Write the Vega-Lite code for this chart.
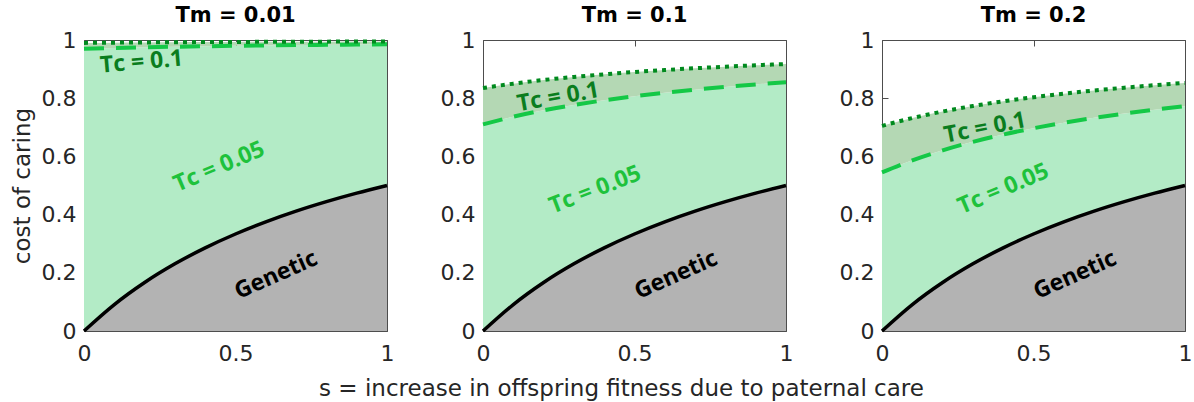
{
  "$schema": "https://vega.github.io/schema/vega-lite/v6.json",
  "padding": {"left": 10, "top": 4, "right": 5, "bottom": 2},
  "background": "white",
  "datasets": {
    "curves": [
      {"Tm": "0.01", "s": 0, "g": 0, "d": 0.97, "t": 0.99},
      {"Tm": "0.01", "s": 0.1, "g": 0.0909, "d": 0.9727, "t": 0.9909},
      {"Tm": "0.01", "s": 0.2, "g": 0.1667, "d": 0.975, "t": 0.9917},
      {"Tm": "0.01", "s": 0.3, "g": 0.2308, "d": 0.9769, "t": 0.9923},
      {"Tm": "0.01", "s": 0.4, "g": 0.2857, "d": 0.9786, "t": 0.9929},
      {"Tm": "0.01", "s": 0.5, "g": 0.3333, "d": 0.98, "t": 0.9933},
      {"Tm": "0.01", "s": 0.6, "g": 0.375, "d": 0.9813, "t": 0.9938},
      {"Tm": "0.01", "s": 0.7, "g": 0.4118, "d": 0.9824, "t": 0.9941},
      {"Tm": "0.01", "s": 0.8, "g": 0.4444, "d": 0.9833, "t": 0.9944},
      {"Tm": "0.01", "s": 0.9, "g": 0.4737, "d": 0.9842, "t": 0.9947},
      {"Tm": "0.01", "s": 1, "g": 0.5, "d": 0.985, "t": 0.995},
      {"Tm": "0.1", "s": 0, "g": 0, "d": 0.71, "t": 0.835},
      {"Tm": "0.1", "s": 0.1, "g": 0.0909, "d": 0.7364, "t": 0.85},
      {"Tm": "0.1", "s": 0.2, "g": 0.1667, "d": 0.7583, "t": 0.8625},
      {"Tm": "0.1", "s": 0.3, "g": 0.2308, "d": 0.7769, "t": 0.8731},
      {"Tm": "0.1", "s": 0.4, "g": 0.2857, "d": 0.7929, "t": 0.8821},
      {"Tm": "0.1", "s": 0.5, "g": 0.3333, "d": 0.8067, "t": 0.89},
      {"Tm": "0.1", "s": 0.6, "g": 0.375, "d": 0.8188, "t": 0.8969},
      {"Tm": "0.1", "s": 0.7, "g": 0.4118, "d": 0.8294, "t": 0.9029},
      {"Tm": "0.1", "s": 0.8, "g": 0.4444, "d": 0.8389, "t": 0.9083},
      {"Tm": "0.1", "s": 0.9, "g": 0.4737, "d": 0.8474, "t": 0.9132},
      {"Tm": "0.1", "s": 1, "g": 0.5, "d": 0.855, "t": 0.9175},
      {"Tm": "0.2", "s": 0, "g": 0, "d": 0.545, "t": 0.705},
      {"Tm": "0.2", "s": 0.1, "g": 0.0909, "d": 0.5864, "t": 0.7318},
      {"Tm": "0.2", "s": 0.2, "g": 0.1667, "d": 0.6208, "t": 0.7542},
      {"Tm": "0.2", "s": 0.3, "g": 0.2308, "d": 0.65, "t": 0.7731},
      {"Tm": "0.2", "s": 0.4, "g": 0.2857, "d": 0.675, "t": 0.7893},
      {"Tm": "0.2", "s": 0.5, "g": 0.3333, "d": 0.6967, "t": 0.8033},
      {"Tm": "0.2", "s": 0.6, "g": 0.375, "d": 0.7156, "t": 0.8156},
      {"Tm": "0.2", "s": 0.7, "g": 0.4118, "d": 0.7324, "t": 0.8265},
      {"Tm": "0.2", "s": 0.8, "g": 0.4444, "d": 0.7472, "t": 0.8361},
      {"Tm": "0.2", "s": 0.9, "g": 0.4737, "d": 0.7605, "t": 0.8447},
      {"Tm": "0.2", "s": 1, "g": 0.5, "d": 0.7725, "t": 0.8525}
    ],
    "labels": [
      {"Tm": "0.01", "label": "Tc = 0.1", "s": 0.19, "y": 0.924},
      {"Tm": "0.01", "label": "Tc = 0.05", "s": 0.446, "y": 0.564},
      {"Tm": "0.01", "label": "Genetic", "s": 0.634, "y": 0.192},
      {"Tm": "0.1", "label": "Tc = 0.1", "s": 0.248, "y": 0.804},
      {"Tm": "0.1", "label": "Tc = 0.05", "s": 0.37, "y": 0.485},
      {"Tm": "0.1", "label": "Genetic", "s": 0.637, "y": 0.192},
      {"Tm": "0.2", "label": "Tc = 0.1", "s": 0.34, "y": 0.698},
      {"Tm": "0.2", "label": "Tc = 0.05", "s": 0.4, "y": 0.488},
      {"Tm": "0.2", "label": "Genetic", "s": 0.637, "y": 0.192}
    ]
  },
  "spacing": 96,
  "bounds": "flush",
  "hconcat": [
    {
      "width": 303, "height": 291,
      "title": "Tm = 0.01",
      "layer": [
        {
          "data": {"name": "curves"},
          "transform": [{"filter": "datum.Tm == '0.01'"}],
          "layer": [
            {"mark": {"type": "area", "color": "#b3b3b3", "interpolate": "monotone"},
             "encoding": {
               "x": {"field": "s", "type": "quantitative", "scale": {"domain": [0, 1]}, "axis": {"orient": "bottom", "values": [0, 0.5, 1], "format": "~g", "title": null}},
               "y": {"field": "g", "type": "quantitative", "scale": {"domain": [0, 1]}, "axis": {"orient": "left", "values": [0, 0.2, 0.4, 0.6, 0.8, 1], "format": "~g", "title": "cost of caring"}}}},
            {"mark": {"type": "area", "color": "#b3ebc6", "interpolate": "monotone"},
             "encoding": {"x": {"field": "s", "type": "quantitative", "axis": null}, "y": {"field": "g", "type": "quantitative", "axis": null}, "y2": {"field": "d"}}},
            {"mark": {"type": "area", "color": "#b4d8b4", "interpolate": "monotone"},
             "encoding": {"x": {"field": "s", "type": "quantitative", "axis": null}, "y": {"field": "d", "type": "quantitative", "axis": null}, "y2": {"field": "t"}}},
            {"mark": {"type": "line", "color": "#000000", "strokeWidth": 3.5, "interpolate": "monotone"},
             "encoding": {"x": {"field": "s", "type": "quantitative", "axis": null}, "y": {"field": "g", "type": "quantitative", "axis": null}}},
            {"mark": {"type": "line", "color": "#14c846", "strokeWidth": 4, "strokeDash": [20, 12], "interpolate": "monotone"},
             "encoding": {"x": {"field": "s", "type": "quantitative", "axis": null}, "y": {"field": "d", "type": "quantitative", "axis": null}}},
            {"mark": {"type": "line", "color": "#008a1e", "strokeWidth": 4, "strokeDash": [4, 5], "interpolate": "monotone"},
             "encoding": {
               "x": {"field": "s", "type": "quantitative", "axis": {"orient": "top", "values": [0, 0.5, 1], "labels": false, "title": null}},
               "y": {"field": "t", "type": "quantitative", "axis": {"orient": "right", "values": [0, 0.2, 0.4, 0.6, 0.8, 1], "labels": false, "title": null}}}}
          ]
        },
        {"data": {"name": "labels"}, "transform": [{"filter": "datum.Tm == '0.01' && datum.label == 'Genetic'"}],
         "mark": {"type": "text", "angle": 336, "font": "Open Sans", "fontWeight": "bold", "fontSize": 23, "color": "#000000"},
         "encoding": {"x": {"field": "s", "type": "quantitative", "axis": null}, "y": {"field": "y", "type": "quantitative", "axis": null}, "text": {"field": "label"}}},
        {"data": {"name": "labels"}, "transform": [{"filter": "datum.Tm == '0.01' && datum.label == 'Tc = 0.05'"}],
         "mark": {"type": "text", "angle": 337, "font": "Open Sans", "fontWeight": "bold", "fontSize": 23, "color": "#1ec23c"},
         "encoding": {"x": {"field": "s", "type": "quantitative", "axis": null}, "y": {"field": "y", "type": "quantitative", "axis": null}, "text": {"field": "label"}}},
        {"data": {"name": "labels"}, "transform": [{"filter": "datum.Tm == '0.01' && datum.label == 'Tc = 0.1'"}],
         "mark": {"type": "text", "angle": 355, "font": "Open Sans", "fontWeight": "bold", "fontSize": 23, "color": "#0a7d1e"},
         "encoding": {"x": {"field": "s", "type": "quantitative", "axis": null}, "y": {"field": "y", "type": "quantitative", "axis": null}, "text": {"field": "label"}}}
      ],
      "resolve": {"axis": {"x": "independent", "y": "independent"}}
    },
    {
      "width": 303, "height": 291,
      "title": "Tm = 0.1",
      "layer": [
        {
          "data": {"name": "curves"},
          "transform": [{"filter": "datum.Tm == '0.1'"}],
          "layer": [
            {"mark": {"type": "area", "color": "#b3b3b3", "interpolate": "monotone"},
             "encoding": {
               "x": {"field": "s", "type": "quantitative", "scale": {"domain": [0, 1]}, "axis": {"orient": "bottom", "values": [0, 0.5, 1], "format": "~g", "title": "s = increase in offspring fitness due to paternal care", "titleX": 138}},
               "y": {"field": "g", "type": "quantitative", "scale": {"domain": [0, 1]}, "axis": {"orient": "left", "values": [0, 0.2, 0.4, 0.6, 0.8, 1], "format": "~g", "title": null}}}},
            {"mark": {"type": "area", "color": "#b3ebc6", "interpolate": "monotone"},
             "encoding": {"x": {"field": "s", "type": "quantitative", "axis": null}, "y": {"field": "g", "type": "quantitative", "axis": null}, "y2": {"field": "d"}}},
            {"mark": {"type": "area", "color": "#b4d8b4", "interpolate": "monotone"},
             "encoding": {"x": {"field": "s", "type": "quantitative", "axis": null}, "y": {"field": "d", "type": "quantitative", "axis": null}, "y2": {"field": "t"}}},
            {"mark": {"type": "line", "color": "#000000", "strokeWidth": 3.5, "interpolate": "monotone"},
             "encoding": {"x": {"field": "s", "type": "quantitative", "axis": null}, "y": {"field": "g", "type": "quantitative", "axis": null}}},
            {"mark": {"type": "line", "color": "#14c846", "strokeWidth": 4, "strokeDash": [20, 12], "interpolate": "monotone"},
             "encoding": {"x": {"field": "s", "type": "quantitative", "axis": null}, "y": {"field": "d", "type": "quantitative", "axis": null}}},
            {"mark": {"type": "line", "color": "#008a1e", "strokeWidth": 4, "strokeDash": [4, 5], "interpolate": "monotone"},
             "encoding": {
               "x": {"field": "s", "type": "quantitative", "axis": {"orient": "top", "values": [0, 0.5, 1], "labels": false, "title": null}},
               "y": {"field": "t", "type": "quantitative", "axis": {"orient": "right", "values": [0, 0.2, 0.4, 0.6, 0.8, 1], "labels": false, "title": null}}}}
          ]
        },
        {"data": {"name": "labels"}, "transform": [{"filter": "datum.Tm == '0.1' && datum.label == 'Genetic'"}],
         "mark": {"type": "text", "angle": 336, "font": "Open Sans", "fontWeight": "bold", "fontSize": 23, "color": "#000000"},
         "encoding": {"x": {"field": "s", "type": "quantitative", "axis": null}, "y": {"field": "y", "type": "quantitative", "axis": null}, "text": {"field": "label"}}},
        {"data": {"name": "labels"}, "transform": [{"filter": "datum.Tm == '0.1' && datum.label == 'Tc = 0.05'"}],
         "mark": {"type": "text", "angle": 339, "font": "Open Sans", "fontWeight": "bold", "fontSize": 23, "color": "#1ec23c"},
         "encoding": {"x": {"field": "s", "type": "quantitative", "axis": null}, "y": {"field": "y", "type": "quantitative", "axis": null}, "text": {"field": "label"}}},
        {"data": {"name": "labels"}, "transform": [{"filter": "datum.Tm == '0.1' && datum.label == 'Tc = 0.1'"}],
         "mark": {"type": "text", "angle": 350, "font": "Open Sans", "fontWeight": "bold", "fontSize": 23, "color": "#0a7d1e"},
         "encoding": {"x": {"field": "s", "type": "quantitative", "axis": null}, "y": {"field": "y", "type": "quantitative", "axis": null}, "text": {"field": "label"}}}
      ],
      "resolve": {"axis": {"x": "independent", "y": "independent"}}
    },
    {
      "width": 303, "height": 291,
      "title": "Tm = 0.2",
      "layer": [
        {
          "data": {"name": "curves"},
          "transform": [{"filter": "datum.Tm == '0.2'"}],
          "layer": [
            {"mark": {"type": "area", "color": "#b3b3b3", "interpolate": "monotone"},
             "encoding": {
               "x": {"field": "s", "type": "quantitative", "scale": {"domain": [0, 1]}, "axis": {"orient": "bottom", "values": [0, 0.5, 1], "format": "~g", "title": null}},
               "y": {"field": "g", "type": "quantitative", "scale": {"domain": [0, 1]}, "axis": {"orient": "left", "values": [0, 0.2, 0.4, 0.6, 0.8, 1], "format": "~g", "title": null}}}},
            {"mark": {"type": "area", "color": "#b3ebc6", "interpolate": "monotone"},
             "encoding": {"x": {"field": "s", "type": "quantitative", "axis": null}, "y": {"field": "g", "type": "quantitative", "axis": null}, "y2": {"field": "d"}}},
            {"mark": {"type": "area", "color": "#b4d8b4", "interpolate": "monotone"},
             "encoding": {"x": {"field": "s", "type": "quantitative", "axis": null}, "y": {"field": "d", "type": "quantitative", "axis": null}, "y2": {"field": "t"}}},
            {"mark": {"type": "line", "color": "#000000", "strokeWidth": 3.5, "interpolate": "monotone"},
             "encoding": {"x": {"field": "s", "type": "quantitative", "axis": null}, "y": {"field": "g", "type": "quantitative", "axis": null}}},
            {"mark": {"type": "line", "color": "#14c846", "strokeWidth": 4, "strokeDash": [20, 12], "interpolate": "monotone"},
             "encoding": {"x": {"field": "s", "type": "quantitative", "axis": null}, "y": {"field": "d", "type": "quantitative", "axis": null}}},
            {"mark": {"type": "line", "color": "#008a1e", "strokeWidth": 4, "strokeDash": [4, 5], "interpolate": "monotone"},
             "encoding": {
               "x": {"field": "s", "type": "quantitative", "axis": {"orient": "top", "values": [0, 0.5, 1], "labels": false, "title": null}},
               "y": {"field": "t", "type": "quantitative", "axis": {"orient": "right", "values": [0, 0.2, 0.4, 0.6, 0.8, 1], "labels": false, "title": null}}}}
          ]
        },
        {"data": {"name": "labels"}, "transform": [{"filter": "datum.Tm == '0.2' && datum.label == 'Genetic'"}],
         "mark": {"type": "text", "angle": 336, "font": "Open Sans", "fontWeight": "bold", "fontSize": 23, "color": "#000000"},
         "encoding": {"x": {"field": "s", "type": "quantitative", "axis": null}, "y": {"field": "y", "type": "quantitative", "axis": null}, "text": {"field": "label"}}},
        {"data": {"name": "labels"}, "transform": [{"filter": "datum.Tm == '0.2' && datum.label == 'Tc = 0.05'"}],
         "mark": {"type": "text", "angle": 337, "font": "Open Sans", "fontWeight": "bold", "fontSize": 23, "color": "#1ec23c"},
         "encoding": {"x": {"field": "s", "type": "quantitative", "axis": null}, "y": {"field": "y", "type": "quantitative", "axis": null}, "text": {"field": "label"}}},
        {"data": {"name": "labels"}, "transform": [{"filter": "datum.Tm == '0.2' && datum.label == 'Tc = 0.1'"}],
         "mark": {"type": "text", "angle": 349, "font": "Open Sans", "fontWeight": "bold", "fontSize": 23, "color": "#0a7d1e"},
         "encoding": {"x": {"field": "s", "type": "quantitative", "axis": null}, "y": {"field": "y", "type": "quantitative", "axis": null}, "text": {"field": "label"}}}
      ],
      "resolve": {"axis": {"x": "independent", "y": "independent"}}
    }
  ],
  "config": {
    "view": {"stroke": "#4d4d4d", "strokeWidth": 1},
    "axis": {
      "grid": false, "domain": false,
      "tickColor": "#4d4d4d", "tickSize": -6, "tickWidth": 1,
      "labelFont": "DejaVu Sans", "labelFontSize": 22, "labelColor": "#262626",
      "labelPadding": 14, "labelFlush": false, "labelOverlap": false, "labelBound": false,
      "titleFont": "DejaVu Sans", "titleFontSize": 23, "titleFontWeight": "normal", "titleColor": "#262626"
    },
    "axisBottom": {"labelPadding": 18, "titlePadding": 13},
    "axisLeft": {"titlePadding": 7},
    "title": {"font": "DejaVu Sans", "fontSize": 21, "fontWeight": "bold", "color": "#000000", "offset": 3}
  }
}
